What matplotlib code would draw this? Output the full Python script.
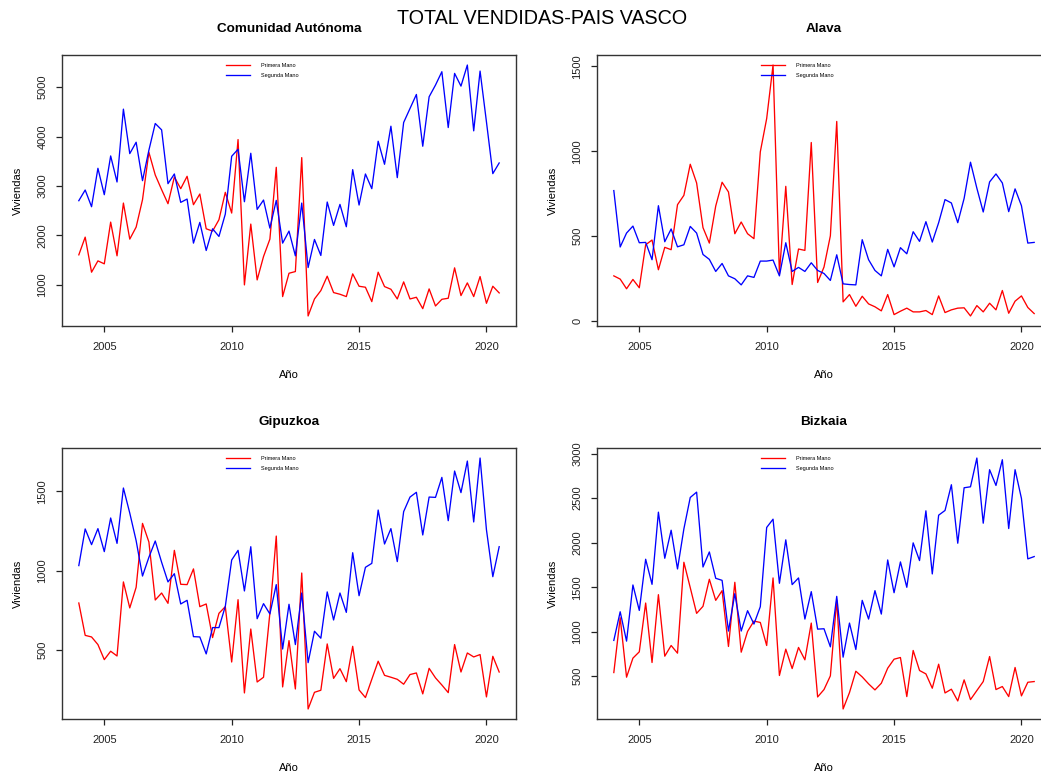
import numpy as np
import matplotlib
matplotlib.use("Agg")
import matplotlib.pyplot as plt

plt.rcParams['font.family'] = ['Liberation Sans', 'DejaVu Sans']

# Quarterly series, 2004 Q1 .. 2020 Q3
anio = 2004 + np.arange(67) / 4.0

ca_primera = [1608, 1966, 1257, 1486, 1426, 2270, 1588, 2655, 1926, 2169,
              2723, 3682, 3223, 2926, 2642, 3182, 2946, 3196, 2622, 2838,
              2135, 2088, 2318, 2872, 2453, 3939, 1000, 2230, 1101, 1574,
              1926, 3378, 764, 1236, 1270, 3574, 372, 716, 885, 1176,
              845, 811, 764, 1223, 973, 953, 662, 1257, 966, 912,
              716, 1061, 716, 750, 520, 919, 574, 709, 730, 1345,
              784, 1041, 764, 1169, 628, 973, 838]
ca_segunda = [2703, 2919, 2581, 3358, 2824, 3608, 3081, 4554, 3655, 3885,
              3108, 3723, 4264, 4135, 3047, 3243, 2669, 2736, 1845, 2264,
              1696, 2135, 1980, 2432, 3601, 3743, 2682, 3662, 2527, 2716,
              2149, 2709, 1845, 2088, 1588, 2655, 1351, 1919, 1595, 2676,
              2203, 2628, 2176, 3331, 2615, 3243, 2946, 3905, 3439, 4209,
              3169, 4284, 4568, 4851, 3804, 4804, 5041, 5311, 4182, 5277,
              5020, 5446, 4115, 5324, 4297, 3250, 3466]

alava_primera = [267, 248, 191, 246, 197, 450, 478, 303, 435, 421,
                 686, 741, 924, 814, 551, 460, 678, 818, 761, 515,
                 584, 515, 486, 997, 1193, 1508, 280, 794, 216, 425,
                 417, 1052, 228, 319, 503, 1176, 114, 157, 88, 147,
                 102, 85, 61, 157, 39, 59, 77, 55, 55, 63,
                 39, 149, 51, 67, 77, 79, 31, 92, 55, 106,
                 67, 181, 47, 118, 149, 81, 45]
alava_segunda = [769, 437, 519, 560, 462, 464, 362, 680, 468, 543,
                 438, 450, 558, 519, 393, 364, 293, 340, 267, 250,
                 214, 267, 258, 354, 354, 360, 267, 462, 293, 317,
                 293, 344, 299, 281, 240, 391, 220, 216, 214, 480,
                 362, 299, 267, 423, 320, 433, 397, 527, 470, 586,
                 466, 580, 716, 696, 580, 723, 936, 783, 643, 820,
                 867, 814, 645, 779, 680, 460, 464]

gipuzkoa_primera = [796, 592, 582, 534, 439, 492, 462, 929, 765, 895,
                    1298, 1181, 815, 859, 794, 1128, 914, 912, 1011, 773,
                    790, 578, 731, 773, 424, 817, 229, 632, 298, 328,
                    733, 1218, 267, 559, 254, 985, 128, 233, 246, 538,
                    321, 382, 300, 523, 248, 200, 315, 429, 340, 328,
                    315, 284, 345, 355, 223, 384, 324, 279, 231, 534,
                    361, 481, 456, 471, 204, 460, 361]
gipuzkoa_segunda = [1032, 1263, 1164, 1265, 1120, 1332, 1172, 1521, 1363, 1189,
                    966, 1084, 1187, 1053, 929, 981, 790, 813, 584, 582,
                    475, 641, 641, 775, 1067, 1128, 872, 1151, 697, 792,
                    727, 912, 506, 788, 534, 859, 420, 618, 574, 866,
                    689, 859, 737, 1113, 842, 1021, 1046, 1382, 1168, 1265,
                    1057, 1372, 1464, 1494, 1225, 1464, 1462, 1588, 1315, 1628,
                    1492, 1691, 1307, 1710, 1258, 962, 1151]

bizkaia_primera = [541, 1157, 489, 703, 774, 1322, 654, 1416, 725, 845,
                   759, 1780, 1495, 1206, 1285, 1589, 1352, 1461, 834, 1555,
                   770, 1003, 1119, 1104, 845, 1604, 508, 804, 586, 823,
                   684, 1097, 267, 350, 504, 1356, 132, 316, 556, 492,
                   414, 346, 421, 590, 691, 710, 271, 789, 564, 526,
                   365, 635, 312, 354, 222, 459, 237, 339, 440, 721,
                   350, 384, 271, 598, 279, 432, 440]
bizkaia_segunda = [902, 1224, 894, 1525, 1239, 1814, 1532, 2343, 1825, 2140,
                   1705, 2155, 2508, 2568, 1727, 1896, 1600, 1577, 1007, 1427,
                   1007, 1236, 1086, 1281, 2171, 2264, 1544, 2032, 1529, 1604,
                   1142, 1450, 1029, 1033, 830, 1397, 714, 1097, 800, 1352,
                   1142, 1461, 1198, 1806, 1438, 1784, 1499, 1998, 1799, 2358,
                   1649, 2309, 2362, 2651, 1994, 2617, 2628, 2951, 2219, 2820,
                   2643, 2932, 2159, 2820, 2497, 1818, 1844]

titulos = ["Comunidad Autónoma", "Alava", "Gipuzkoa", "Bizkaia"]
primera = [ca_primera, alava_primera, gipuzkoa_primera, bizkaia_primera]
segunda = [ca_segunda, alava_segunda, gipuzkoa_segunda, bizkaia_segunda]
yticks = [[1000, 2000, 3000, 4000, 5000],
          [0, 500, 1000, 1500],
          [500, 1000, 1500],
          [500, 1000, 1500, 2000, 2500, 3000]]
xticks = [2005, 2010, 2015, 2020]

W, H = 1041, 775
fig = plt.figure(figsize=(W / 100, H / 100), dpi=100)

# axes boxes in pixels: left, top (panels on the right run past the image edge)
cajas = [(62, 55), (597, 55), (62, 448), (597, 448)]
aw, ah = 454, 271

for k in range(4):
    l, t = cajas[k]
    ax = fig.add_axes([l / W, 1 - (t + ah) / H, aw / W, ah / H])
    p1, = ax.plot(anio, primera[k], color='red', lw=0.95, label='Primera Mano')
    p2, = ax.plot(anio, segunda[k], color='blue', lw=0.95, label='Segunda Mano')

    # R-style 4% padding on both axes
    xr = anio[-1] - anio[0]
    ax.set_xlim(anio[0] - 0.04 * xr, anio[-1] + 0.04 * xr)
    todos = np.concatenate([primera[k], segunda[k]])
    mn, mx = todos.min(), todos.max()
    ax.set_ylim(mn - 0.04 * (mx - mn), mx + 0.04 * (mx - mn))

    ax.set_xticks(xticks)
    ax.set_yticks(yticks[k])
    ax.set_yticklabels([str(v) for v in yticks[k]], rotation=90, va='center')
    ax.tick_params(direction='out', length=4.5, width=0.9, labelsize=8, colors='#222222')
    ax.tick_params(axis='x', pad=7)
    ax.tick_params(axis='y', pad=6)
    for s in ax.spines.values():
        s.set_linewidth(1.0)
        s.set_color('#333333')

    ax.set_xlabel('Año', fontsize=8)
    ax.set_ylabel('Viviendas', fontsize=8)
    ax.xaxis.label.set_va('center')
    ax.yaxis.label.set_va('center')
    ax.xaxis.set_label_coords(0.5, -49 / ah)
    ax.yaxis.set_label_coords(-44 / aw, 0.5)

    ax.text(0.5, 1 + 26 / ah, titulos[k], transform=ax.transAxes,
            ha='center', va='center', fontsize=9.7, fontweight='bold')

    ax.legend(handles=[p1, p2], loc='upper left', bbox_to_anchor=(0.361, 0.97),
              frameon=False, fontsize=4, handlelength=4.3, handletextpad=2.0,
              labelspacing=0.9, borderpad=0, borderaxespad=0)

fig.text(542 / W, 1 - 18 / H, 'TOTAL VENDIDAS-PAIS VASCO', ha='center', va='center',
         fontsize=14.2)

fig.savefig('out.png', dpi=100)
